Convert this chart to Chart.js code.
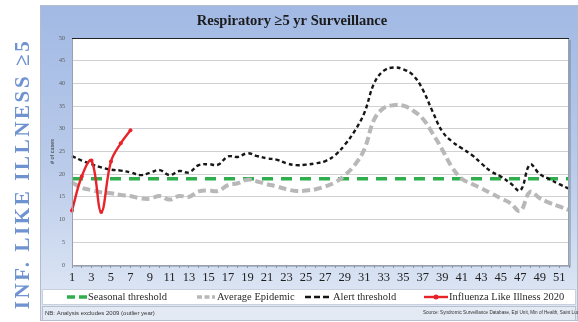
<!DOCTYPE html>
<html>
<head>
<meta charset="utf-8">
<script src="https://cdn.jsdelivr.net/npm/chart.js@4.4.1/dist/chart.umd.min.js"></script>
<style>
  html, body { margin: 0; padding: 0; background: #fff; }
  #wrap { width: 578px; height: 322px; }
</style>
</head>
<body>
<div id="wrap"><canvas id="chart" width="578" height="322"></canvas></div>
<script>
// ── Weekly series (epi weeks 1–52) ──────────────────────────────

const WEEKS = [
  "1","2","3","4","5","6","7","8","9","10","11","12","13",
  "14","15","16","17","18","19","20","21","22","23","24","25","26",
  "27","28","29","30","31","32","33","34","35","36","37","38","39",
  "40","41","42","43","44","45","46","47","48","49","50","51","52",
];

const SEASONAL_THRESHOLD = [
  19, 19, 19, 19, 19, 19, 19, 19, 19, 19, 19, 19, 19,
  19, 19, 19, 19, 19, 19, 19, 19, 19, 19, 19, 19, 19,
  19, 19, 19, 19, 19, 19, 19, 19, 19, 19, 19, 19, 19,
  19, 19, 19, 19, 19, 19, 19, 19, 19, 19, 19, 19, 19,
];

const AVERAGE_EPIDEMIC = [
  18.2, 17.0, 16.5, 16.0, 15.8, 15.4, 15.2, 14.7, 14.6, 15.2, 14.4, 15.2, 15.0,
  16.2, 16.4, 16.3, 17.6, 18.0, 18.8, 18.4, 17.8, 17.3, 16.7, 16.3, 16.4, 16.7,
  17.3, 18.2, 19.8, 22.0, 25.5, 32.0, 34.6, 35.2, 35.1, 34.0, 32.2, 29.0, 25.4,
  21.5, 19.0, 17.9, 16.9, 15.8, 14.7, 13.6, 11.9, 16.1, 14.7, 13.7, 12.9, 12.1,
];

const ALERT_THRESHOLD = [
  24.0, 23.0, 22.2, 21.5, 21.0, 20.8, 20.4, 19.8, 20.3, 20.9, 19.8, 20.7, 20.4,
  22.0, 22.2, 22.1, 23.9, 23.8, 24.6, 24.0, 23.5, 23.2, 22.4, 22.0, 22.1, 22.4,
  22.9, 24.2, 26.5, 29.5, 33.5, 40.0, 42.8, 43.5, 43.1, 41.8, 38.6, 33.8, 29.4,
  27.2, 25.7, 24.3, 22.4, 20.6, 19.5, 18.0, 16.4, 22.1, 20.0, 18.9, 17.8, 16.8,
];

const ILI_2020 = [12.0, 19.5, 23.0, 11.7, 22.8, 26.8, 29.7];

const Y_MAX = 50;
const Y_STEP = 5;

// ── Colours / fonts ─────────────────────────────────────────────

const SERIF = "'Liberation Serif', 'DejaVu Serif', serif";
const SANS  = "'Liberation Sans', Arial, sans-serif";

const GREEN = "#2fae4c";
const GREY  = "#b8b8b8";
const BLACK = "#161616";
const RED   = "#e8242a";

// ── Frame, title, side label, legend row, footnotes ─────────────

const framePlugin = {
  id: "frame",
  beforeDraw(chart) {
    const { ctx, chartArea: a, width, height } = chart;
    ctx.save();
    ctx.fillStyle = "#fff";
    ctx.fillRect(0, 0, width, height);

    // side label
    ctx.save();
    ctx.translate(29, 174);
    ctx.rotate(-Math.PI / 2);
    ctx.font = `bold 21px ${SERIF}`;
    ctx.letterSpacing = "2.6px";
    ctx.fillStyle = "#6f93d0";
    ctx.textAlign = "center";
    ctx.textBaseline = "alphabetic";
    ctx.fillText("INF. LIKE ILLNESS \u22655", 0, 0);
    ctx.restore();

    // blue panel
    const g = ctx.createLinearGradient(0, 5, 0, 300);
    g.addColorStop(0, "#a1b9e4");
    g.addColorStop(0.55, "#bacbea");
    g.addColorStop(1, "#dde6f4");
    ctx.fillStyle = g;
    ctx.fillRect(40, 5, width - 40, height - 6);
    ctx.strokeStyle = "#b3bccb";
    ctx.lineWidth = 1;
    ctx.strokeRect(40.5, 5.5, width - 41, height - 7);

    // plot area with a soft shadow
    ctx.fillStyle = "rgba(90,105,135,0.35)";
    ctx.fillRect(a.left + 2, a.top + 2, a.right - a.left, a.bottom - a.top);
    ctx.fillStyle = "#fff";
    ctx.fillRect(a.left, a.top, a.right - a.left, a.bottom - a.top);

    // title
    ctx.font = `bold 14.5px ${SERIF}`;
    ctx.fillStyle = "#1b1b1b";
    ctx.textAlign = "center";
    ctx.textBaseline = "middle";
    ctx.fillText("Respiratory \u22655 yr Surveillance", 292, 21);

    // legend band
    ctx.fillStyle = "#fff";
    ctx.fillRect(42, 289, width - 45, 15);
    ctx.strokeStyle = "#c9d0dc";
    ctx.strokeRect(42.5, 289.5, width - 45, 15);

    // footnote band
    ctx.fillStyle = "#e4eaf4";
    ctx.fillRect(42, 306, width - 45, 14);
    ctx.strokeStyle = "#b8c0cf";
    ctx.strokeRect(42.5, 306.5, width - 45, 14);
    ctx.fillStyle = "#333";
    ctx.textAlign = "left";
    ctx.font = `6px ${SANS}`;
    ctx.fillText("NB: Analysis excludes 2009 (outlier year)", 45, 313);
    ctx.font = `4.6px ${SANS}`;
    ctx.fillText("Source: Syndromic Surveillance Database, Epi Unit, Min of Health, Saint Lucia", 423, 313);
    ctx.restore();
  },
  afterDraw(chart) {
    const { ctx, chartArea: a } = chart;
    ctx.save();
    ctx.strokeStyle = "#9aa0aa";
    ctx.lineWidth = 1;
    ctx.strokeRect(a.left + 0.5, a.top + 0.5, a.right - a.left - 1, a.bottom - a.top);
    ctx.strokeStyle = "#222";
    ctx.lineWidth = 1.2;
    ctx.beginPath();
    ctx.moveTo(a.left, a.top + 0.5);
    ctx.lineTo(a.right, a.top + 0.5);
    ctx.stroke();

    // legend entries, coloured from their datasets
    const entries = [
      { ds: 0, x: 67, w: 20, dash: [8, 4], textX: 88 },
      { ds: 1, x: 197, w: 18, dash: [5, 2.5], textX: 217 },
      { ds: 2, x: 305, w: 25, dash: [6, 3], textX: 333 },
      { ds: 3, x: 424, w: 24, dash: [], textX: 449 },
    ];
    const y = 297;
    ctx.font = `10.5px ${SERIF}`;
    ctx.textBaseline = "middle";
    ctx.textAlign = "left";
    entries.forEach(e => {
      const ds = chart.data.datasets[e.ds];
      ctx.save();
      ctx.strokeStyle = ds.borderColor;
      ctx.lineWidth = Math.min(ds.borderWidth, 3.5);
      ctx.setLineDash(e.dash);
      ctx.beginPath();
      ctx.moveTo(e.x, y);
      ctx.lineTo(e.x + e.w, y);
      ctx.stroke();
      if (ds.pointRadius) {
        ctx.fillStyle = ds.borderColor;
        ctx.beginPath();
        ctx.arc(e.x + e.w / 2, y, ds.pointRadius + 0.5, 0, Math.PI * 2);
        ctx.fill();
      }
      ctx.restore();
      ctx.fillStyle = "#2a2a2a";
      ctx.fillText(ds.label, e.textX, y);
    });
    ctx.restore();
  },
};

// ── Chart ───────────────────────────────────────────────────────

const ctx = document.getElementById("chart").getContext("2d");

new Chart(ctx, {
  type: "line",
  data: {
    labels: WEEKS,
    datasets: [
      {
        label: "Seasonal threshold",
        data: SEASONAL_THRESHOLD,
        borderColor: GREEN,
        borderWidth: 3.5,
        borderDash: [11, 8],
        pointRadius: 0,
        tension: 0,
        order: 4,
      },
      {
        label: "Average Epidemic",
        data: AVERAGE_EPIDEMIC,
        borderColor: GREY,
        borderWidth: 4,
        borderDash: [8, 4],
        pointRadius: 0,
        tension: 0.4,
        order: 3,
      },
      {
        label: "Alert threshold",
        data: ALERT_THRESHOLD,
        borderColor: BLACK,
        borderWidth: 2.4,
        borderDash: [4, 3],
        pointRadius: 0,
        tension: 0.4,
        order: 2,
      },
      {
        label: "Influenza Like Illness 2020",
        data: ILI_2020,
        borderColor: RED,
        backgroundColor: RED,
        borderWidth: 2.4,
        pointRadius: 2,
        pointBackgroundColor: RED,
        pointBorderWidth: 0,
        tension: 0.4,
        order: 1,
      },
    ],
  },
  options: {
    responsive: false,
    animation: false,
    events: [],
    layout: { padding: { left: 40, top: 38, right: 9, bottom: 32 } },
    plugins: {
      legend: { display: false },
      tooltip: { enabled: false },
    },
    scales: {
      x: {
        offset: false,
        grid: { drawOnChartArea: false, drawTicks: true, tickLength: 3, color: "#8f96a3" },
        border: { color: "#8f96a3" },
        ticks: {
          autoSkip: false,
          maxRotation: 0,
          padding: 2,
          color: "#1e1e1e",
          font: { family: SERIF, size: 12.5 },
          callback: (v, i) => (i % 2 === 0 ? WEEKS[i] : ""),
        },
        afterFit: s => { s.height = 25; },
      },
      y: {
        min: 0,
        max: Y_MAX,
        ticks: {
          stepSize: Y_STEP,
          padding: 7,
          color: "#555",
          font: { family: SERIF, size: 6 },
        },
        grid: { color: "#cfd1d4", drawTicks: false },
        border: { color: "#9aa0aa" },
        title: {
          display: true,
          text: "# of cases",
          color: "#333",
          font: { family: SANS, size: 5.5 },
          padding: { top: 9, bottom: 0 },
        },
        afterFit: s => { s.width = 32; },
      },
    },
  },
  plugins: [framePlugin],
});
</script>
</body>
</html>
